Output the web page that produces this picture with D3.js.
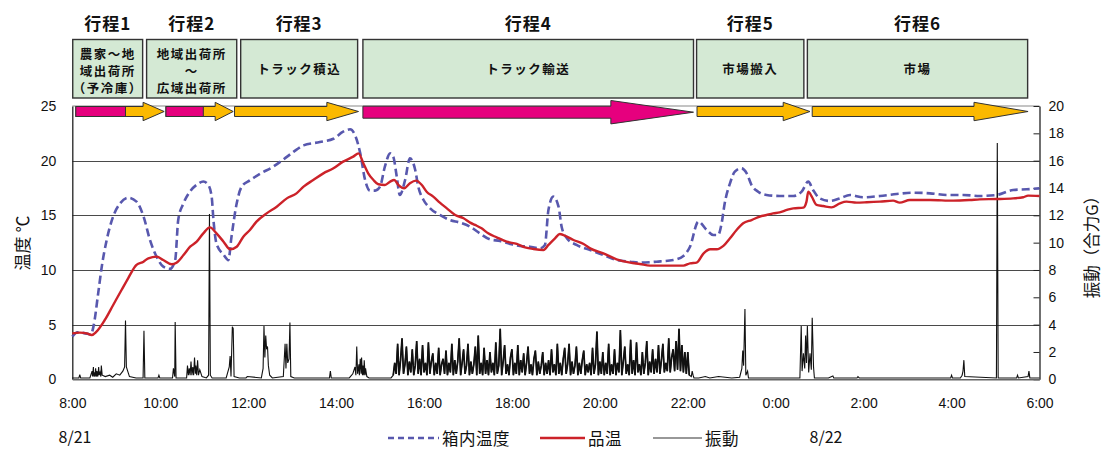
<!DOCTYPE html>
<html lang="ja">
<head>
<meta charset="utf-8">
<title>行程別 温度・振動</title>
<script src="https://cdn.jsdelivr.net/npm/d3@7"></script>
<style>
body { margin: 0; background: #fff; }
text { font-family: "Liberation Sans", Arial, sans-serif; fill: #111; }
.jp { font-family: "Noto Sans CJK JP", sans-serif; }
</style>
</head>
<body>
<script>
// 時刻は 8/21 0:00 からの時間 (30 = 8/22 6:00)
var phaseNames = ["行程1", "行程2", "行程3", "行程4", "行程5", "行程6"];
var phaseLabels = [["農家～地", "域出荷所", "（予冷庫）"], ["地域出荷所", "～", "広域出荷所"],
                   ["トラック積込"], ["トラック輸送"], ["市場搬入"], ["市場"]];
var phaseFrom = [8.01, 9.69, 11.83, 14.61, 22.20, 24.72];
var phaseTo   = [9.60, 11.74, 14.49, 22.13, 24.64, 29.73];

// 矢印: 開始, ピンク部分の終わり, 矢じり開始, 先端
var arrowFrom   = [8.08, 10.13, 11.69, 14.61, 22.21, 24.83];
var arrowPinkTo = [9.21, 10.98, null, 22.13, null, null];
var arrowHeadAt = [9.61, 11.25, 13.79, 20.25, 24.17, 28.51];
var arrowTip    = [10.09, 11.66, 14.51, 22.13, 24.78, 29.74];

var xTicks = [8, 10, 12, 14, 16, 18, 20, 22, 24, 26, 28, 30];
var tempTicks = [0, 5, 10, 15, 20, 25];
var vibTicks = [0, 2, 4, 6, 8, 10, 12, 14, 16, 18, 20];

var boxTemp = [[8.00,3.9],[8.12,4.3],[8.30,4.2],[8.42,4.1],[8.48,4.8],[8.59,7.9],[8.67,10.3],[8.78,12.7],
  [8.93,14.9],[9.09,16.1],[9.27,16.6],[9.46,16.25],[9.62,14.9],[9.77,12.7],[9.92,11.2],[10.07,10.3],
  [10.22,10.1],[10.34,10.9],[10.41,14.6],[10.53,16.1],[10.68,17.2],[10.83,17.8],[10.98,18.1],[11.09,17.8],
  [11.17,16.7],[11.21,14.6],[11.28,12.4],[11.44,11.4],[11.55,10.9],[11.62,13.0],[11.74,16.1],[11.85,17.6],
  [12.04,18.2],[12.27,18.8],[12.57,19.45],[12.80,20.1],[13.03,20.8],[13.26,21.4],[13.63,21.7],[13.94,22.0],
  [14.16,22.65],[14.32,22.87],[14.43,22.35],[14.55,20.67],[14.66,18.23],[14.77,17.26],[14.89,17.26],[15.0,17.62],
  [15.11,19.45],[15.23,20.67],[15.30,20.37],[15.38,18.54],[15.45,16.86],[15.57,18.23],[15.68,20.21],[15.80,19.15],
  [15.87,17.62],[15.99,16.40],[16.14,15.64],[16.36,15.03],[16.59,14.57],[16.82,14.33],[17.05,13.96],[17.27,13.35],
  [17.50,12.80],[17.73,12.65],[17.96,12.38],[18.18,12.20],[18.41,12.13],[18.64,11.98],[18.75,12.29],[18.83,15.49],
  [18.94,16.71],[19.06,15.79],[19.13,13.96],[19.25,12.90],[19.47,12.29],[19.78,11.83],[20.08,11.37],[20.38,10.91],
  [20.69,10.76],[20.91,10.67],[21.29,10.76],[21.67,10.91],[21.90,11.28],[22.05,12.13],[22.24,14.42],[22.43,13.66],
  [22.58,13.20],[22.69,13.20],[22.77,14.27],[22.84,16.10],[22.96,17.93],[23.07,18.99],[23.22,19.30],[23.34,18.84],
  [23.45,17.77],[23.60,17.16],[23.79,16.86],[24.09,16.77],[24.40,16.77],[24.59,17.16],[24.74,18.08],[24.85,17.32],
  [25.00,16.55],[25.23,16.31],[25.46,16.55],[25.69,16.86],[25.99,16.65],[26.37,16.77],[26.75,16.95],[27.13,17.07],
  [27.51,17.01],[27.89,16.86],[28.27,16.86],[28.64,16.77],[29.02,16.86],[29.40,17.32],[29.71,17.38],[30.0,17.47]];

var prodTemp = [[8.00,4.2],[8.17,4.27],[8.33,4.2],[8.44,4.05],[8.55,4.36],[8.74,5.43],[8.93,6.80],[9.12,8.17],
  [9.27,9.24],[9.46,10.46],[9.62,10.76],[9.73,11.07],[9.92,11.22],[10.07,10.91],[10.26,10.52],[10.37,10.67],
  [10.53,11.37],[10.68,12.13],[10.83,12.59],[10.98,13.35],[11.13,13.90],[11.28,13.35],[11.44,12.59],[11.59,11.89],
  [11.74,12.13],[11.89,13.05],[12.04,13.66],[12.19,14.42],[12.42,15.18],[12.65,15.79],[12.88,16.55],[13.10,17.01],
  [13.26,17.62],[13.48,18.23],[13.71,18.84],[13.94,19.30],[14.16,19.91],[14.39,20.37],[14.51,20.67],[14.62,19.76],
  [14.73,18.84],[14.85,18.23],[14.96,17.84],[15.11,17.77],[15.23,18.08],[15.32,18.23],[15.42,17.77],[15.55,17.47],
  [15.68,17.93],[15.82,18.17],[15.95,17.77],[16.06,17.16],[16.21,16.71],[16.36,16.16],[16.52,15.64],[16.71,15.03],
  [16.90,14.73],[17.05,14.33],[17.16,14.12],[17.31,13.81],[17.46,13.35],[17.65,12.99],[17.88,12.59],[18.11,12.38],
  [18.30,12.07],[18.49,11.92],[18.72,11.83],[18.83,12.29],[18.98,12.90],[19.09,13.29],[19.25,13.05],[19.40,12.74],
  [19.63,12.38],[19.78,11.98],[20.08,11.52],[20.38,10.98],[20.69,10.67],[20.91,10.55],[21.14,10.40],[21.45,10.40],
  [21.67,10.40],[21.90,10.40],[22.05,10.61],[22.20,10.67],[22.36,11.52],[22.51,11.89],[22.66,11.89],[22.81,12.20],
  [22.96,12.90],[23.11,13.66],[23.26,14.27],[23.45,14.57],[23.64,14.88],[23.79,15.03],[23.94,15.18],[24.09,15.27],
  [24.25,15.49],[24.40,15.64],[24.63,15.70],[24.70,16.25],[24.74,17.16],[24.82,16.71],[24.93,15.95],[25.08,15.85],
  [25.27,15.73],[25.46,16.10],[25.61,16.25],[25.84,16.16],[26.07,16.19],[26.37,16.25],[26.67,16.34],[26.82,16.16],
  [27.05,16.40],[27.51,16.40],[28.04,16.34],[28.42,16.40],[28.64,16.46],[29.02,16.49],[29.40,16.55],[29.63,16.65],
  [29.74,16.80],[30.0,16.77]];

// 振動: 輸送前の記録
var vibEarly = [[8.00,0.1],[8.15,0.1],[8.17,0.35],[8.19,0.1],[8.40,0.1],[8.45,0.6],[8.46,0.2],[8.48,0.9],[8.49,0.2],
  [8.50,0.5],[8.52,0.2],[8.53,0.8],[8.55,0.2],[8.56,0.6],[8.58,0.2],[8.60,0.9],[8.61,0.3],[8.63,0.5],[8.65,0.2],
  [8.66,1.0],[8.68,0.3],[8.75,0.2],[8.85,0.3],[8.92,0.15],[9.0,0.4],[9.08,0.3],[9.15,0.6],[9.19,0.9],[9.21,4.3],
  [9.23,0.9],[9.26,0.6],[9.30,0.2],[9.45,0.1],[9.61,0.1],[9.63,3.55],[9.65,0.1],[9.95,0.1],[9.97,0.3],[9.99,0.1],
  [10.28,0.1],[10.30,0.8],[10.33,0.2],[10.34,4.2],[10.36,0.1],[10.60,0.1],[10.62,1.0],[10.64,0.3],[10.66,0.8],
  [10.68,0.3],[10.70,1.3],[10.72,0.3],[10.74,0.9],[10.76,0.3],[10.78,1.6],[10.80,0.4],[10.81,1.0],[10.83,0.3],
  [10.85,1.4],[10.87,0.3],[10.90,0.7],[10.95,0.2],[11.05,0.1],[11.10,0.3],[11.12,12.1],[11.14,0.3],[11.18,0.1],
  [11.50,0.1],[11.57,0.9],[11.59,1.7],[11.61,0.2],[11.64,3.85],[11.66,3.7],[11.68,0.2],[11.80,0.1],[11.95,0.1],
  [11.98,0.2],[12.30,0.1],[12.34,0.8],[12.36,3.9],[12.38,1.6],[12.40,3.2],[12.42,2.2],[12.44,2.4],[12.46,1.0],
  [12.49,0.3],[12.55,0.1],[12.80,0.2],[12.84,2.6],[12.86,0.8],[12.88,2.6],[12.90,1.2],[12.93,1.5],[12.95,4.15],
  [12.97,0.2],[13.05,0.1],[13.85,0.1],[13.87,0.6],[13.89,0.1],[14.30,0.1],[14.38,0.4],[14.43,0.9],[14.45,0.3],
  [14.46,1.3],[14.47,2.4],[14.49,0.4],[14.52,1.1],[14.53,0.3],[14.55,1.5],[14.57,0.4],[14.58,1.6],[14.60,0.3],
  [14.61,1.0],[14.63,0.3],[14.64,1.4],[14.66,0.3],[14.67,0.8],[14.70,0.2],[14.75,0.1],[15.25,0.1]];

// 振動: トラック輸送中 (15:18 から 2 分ごと)
var bandStart = 15.3, bandStep = 2 / 60;
var bandVib = [0.3,1.2,0.4,2.6,0.3,1.4,3.0,0.4,1.1,2.4,0.3,1.3,0.5,2.2,0.3,
  1.0,2.8,0.4,1.5,0.3,2.5,0.5,1.2,0.3,2.7,0.4,1.3,1.9,0.3,1.2,
  0.4,2.3,0.3,1.1,1.5,0.4,2.1,0.3,1.2,0.5,2.6,0.3,1.4,0.4,1.3,
  3.0,0.3,1.2,2.2,0.4,1.0,2.6,0.3,1.3,0.4,1.1,2.4,0.3,3.2,0.4,
  1.2,0.3,2.3,0.4,1.4,0.3,2.0,0.5,1.2,0.3,2.7,0.4,1.0,3.7,0.3,
  1.3,2.5,0.4,1.1,0.3,1.6,2.2,0.3,1.2,0.4,2.5,0.3,1.4,0.5,1.9,
  0.3,1.2,2.4,0.4,1.1,0.3,1.5,2.1,0.3,1.3,0.4,1.0,2.0,0.3,1.2,
  0.4,1.4,0.3,2.2,0.5,1.1,0.3,2.6,0.4,1.2,0.3,1.5,2.3,0.4,1.1,
  2.6,0.3,1.3,0.4,1.0,2.4,0.3,1.2,0.4,1.4,2.1,0.3,1.1,0.5,1.2,
  0.3,2.3,0.4,1.1,3.5,0.3,1.3,0.4,2.0,0.3,1.2,0.4,2.6,0.3,1.1,
  0.4,2.2,0.3,1.2,0.5,3.6,0.3,1.3,2.4,0.4,1.1,0.3,2.9,0.4,1.4,
  0.3,2.7,0.5,1.1,0.3,2.0,0.4,1.2,2.8,0.3,1.3,0.5,2.2,0.4,1.5,
  0.5,2.5,0.4,1.4,2.6,0.5,1.2,0.6,3.0,0.5,1.6,2.2,0.6,2.8,0.7,
  3.7,0.6,2.5,0.5,2.0,0.4,2.0,0.3];

// 振動: 輸送後
var vibLate = [[22.08,0.2],[22.10,0.6],[22.12,0.3],[22.14,0.1],[22.25,0.1],[22.40,0.2],[22.50,0.1],[22.70,0.2],
  [23.0,0.1],[23.18,0.15],[23.23,0.8],[23.25,2.1],[23.27,1.0],[23.30,5.15],[23.32,0.3],[23.36,0.6],[23.38,0.1],
  [24.3,0.1],[24.55,0.1],[24.58,3.9],[24.60,0.6],[24.63,1.9],[24.66,0.8],[24.68,3.2],[24.70,1.2],[24.72,3.9],
  [24.75,0.5],[24.78,1.9],[24.81,0.7],[24.83,4.5],[24.86,0.9],[24.88,0.1],[25.2,0.1],[25.3,0.25],[25.32,0.1],
  [25.85,0.1],[25.87,0.2],[25.9,0.1],[27.98,0.1],[28.0,0.3],[28.02,0.1],[28.2,0.1],[28.24,0.3],[28.26,0.6],
  [28.28,1.4],[28.30,0.2],[29.02,0.1],[29.04,17.3],[29.06,0.1],[29.48,0.1],[29.5,0.3],[29.52,0.1],[29.74,0.2],
  [29.76,0.6],[29.78,0.1],[30.0,0.1]];

var W = 1103, H = 450;
var svg = d3.select("body").append("svg").attr("width", W).attr("height", H);

var x = d3.scaleLinear().domain([8, 30]).range([72.3, 1039.5]);
var yT = d3.scaleLinear().domain([0, 25]).range([379.3, 106]);
var yV = d3.scaleLinear().domain([0, 20]).range([379.3, 106]);

// 枠とグリッド
svg.append("g").selectAll("line").data([5, 10, 15, 20]).join("line")
   .attr("x1", x(8)).attr("x2", x(30))
   .attr("y1", function(d){ return Math.round(yT(d)) + 0.5; })
   .attr("y2", function(d){ return Math.round(yT(d)) + 0.5; })
   .attr("stroke", "#4a4a4a").attr("stroke-width", 1.2);
svg.append("line").attr("x1", x(8)).attr("x2", x(30))
   .attr("y1", yT(25)).attr("y2", yT(25)).attr("stroke", "#888").attr("stroke-width", 1);

var axL = svg.append("g").attr("transform", "translate(" + x(8) + ",0)")
   .call(d3.axisLeft(yT).tickValues(tempTicks).tickSize(0).tickSizeOuter(0).tickPadding(16));
axL.select(".domain").attr("stroke", "#222").attr("stroke-width", 1.3);
axL.selectAll("text").attr("font-size", 14).attr("font-family", "Liberation Sans, Arial, sans-serif").attr("fill", "#111");

var axR = svg.append("g").attr("transform", "translate(" + x(30) + ",0)")
   .call(d3.axisRight(yV).tickValues(vibTicks).tickSizeInner(-6).tickSizeOuter(0).tickPadding(9));
axR.select(".domain").attr("stroke", "#222").attr("stroke-width", 1.3);
axR.selectAll("line").attr("stroke", "#222");
axR.selectAll("text").attr("font-size", 14).attr("font-family", "Liberation Sans, Arial, sans-serif").attr("fill", "#111");

var axB = svg.append("g").attr("transform", "translate(0," + yT(0) + ")")
   .call(d3.axisBottom(x).tickValues(xTicks).tickSize(0).tickSizeOuter(0).tickPadding(19)
           .tickFormat(function(h){ return (h % 24) + ":00"; }));
axB.select(".domain").attr("stroke", "#666").attr("stroke-width", 1.5);
axB.selectAll("text").attr("font-size", 14).attr("font-family", "Liberation Sans, Arial, sans-serif").attr("fill", "#111");

// 系列
var bandData = bandVib.map(function(v, i){ return [bandStart + i * bandStep, v]; });
var vibData = vibEarly.concat(bandData, vibLate);
var lineT = d3.line().x(function(d){ return x(d[0]); }).y(function(d){ return yT(d[1]); }).curve(d3.curveMonotoneX);
var lineV = d3.line().x(function(d){ return x(d[0]); }).y(function(d){ return yV(d[1]); });

svg.append("path").datum(vibData).attr("d", lineV)
   .attr("fill", "none").attr("stroke", "#111").attr("stroke-width", 1.1);
// 輸送中は記録が密なので太めに重ねる
svg.append("path").datum(bandData).attr("d", lineV)
   .attr("fill", "none").attr("stroke", "#111").attr("stroke-width", 1.7).attr("stroke-linejoin", "bevel");
svg.append("path").datum(boxTemp).attr("d", lineT)
   .attr("fill", "none").attr("stroke", "#5858ae").attr("stroke-width", 2.6).attr("stroke-dasharray", "8,4");
svg.append("path").datum(prodTemp).attr("d", lineT)
   .attr("fill", "none").attr("stroke", "#cc2229").attr("stroke-width", 2.4);

// 行程の見出しと箱
var boxTop = 39.5, boxBottom = 98;
phaseNames.forEach(function(name, i){
  var cx = (x(phaseFrom[i]) + x(phaseTo[i])) / 2;
  svg.append("text").attr("class", "jp").attr("x", cx).attr("y", 22)
     .attr("text-anchor", "middle").attr("dominant-baseline", "central")
     .attr("font-size", 17).attr("font-weight", "bold").attr("letter-spacing", 1).text(name);
  svg.append("rect").attr("x", x(phaseFrom[i])).attr("y", boxTop)
     .attr("width", x(phaseTo[i]) - x(phaseFrom[i])).attr("height", boxBottom - boxTop)
     .attr("fill", "#d4e9d4").attr("stroke", "#333").attr("stroke-width", 1.4);
  var lines = phaseLabels[i];
  var cy = (boxTop + boxBottom) / 2;
  lines.forEach(function(t, j){
    svg.append("text").attr("class", "jp").attr("x", cx)
       .attr("y", lines.length === 1 ? cy : 53 + j * 17)
       .attr("text-anchor", "middle").attr("dominant-baseline", "central")
       .attr("font-size", 12.5).attr("font-weight", "bold").attr("letter-spacing", 1.5).text(t);
  });
});

// 矢印
var pink = "#e6007e", yellow = "#fbb900";
arrowFrom.forEach(function(f, i){
  var allPink = arrowPinkTo[i] !== null && arrowPinkTo[i] >= arrowTip[i];
  var cy = allPink ? 112.2 : 111.5, bh = allPink ? 6 : 5, hh = allPink ? 11.7 : 9.2;
  var x0 = x(f), xh = x(arrowHeadAt[i]), xt = x(arrowTip[i]);
  var pts = [[x0, cy - bh], [xh, cy - bh], [xh, cy - hh], [xt, cy], [xh, cy + hh], [xh, cy + bh], [x0, cy + bh]];
  svg.append("polygon").attr("points", pts.map(function(p){ return p.join(","); }).join(" "))
     .attr("fill", allPink ? pink : yellow).attr("stroke", "#333").attr("stroke-width", 1);
  if (arrowPinkTo[i] !== null && !allPink) {
    svg.append("rect").attr("x", x0).attr("y", cy - bh)
       .attr("width", x(arrowPinkTo[i]) - x0).attr("height", 2 * bh)
       .attr("fill", pink).attr("stroke", "#333").attr("stroke-width", 1);
  }
});

// 軸タイトルと日付
svg.append("text").attr("class", "jp").attr("transform", "translate(21,243) rotate(-90)")
   .attr("text-anchor", "middle").attr("dominant-baseline", "central").attr("font-size", 17).text("温度 ℃");
svg.append("text").attr("class", "jp").attr("transform", "translate(1091,243) rotate(-90)")
   .attr("text-anchor", "middle").attr("dominant-baseline", "central").attr("font-size", 16.5).text("振動（合力G）");
svg.append("text").attr("class", "jp").attr("x", 75).attr("y", 436).attr("text-anchor", "middle")
   .attr("dominant-baseline", "central").attr("font-size", 16).text("8/21");
svg.append("text").attr("class", "jp").attr("x", 826).attr("y", 436).attr("text-anchor", "middle")
   .attr("dominant-baseline", "central").attr("font-size", 16).text("8/22");

// 凡例
var legY = 438;
var legend = [
  {name: "箱内温度", x1: 388, x2: 439, color: "#5858ae", w: 2.4, dash: "6,4"},
  {name: "品温", x1: 540, x2: 585, color: "#cc2229", w: 2.4, dash: null},
  {name: "振動", x1: 653, x2: 702, color: "#333", w: 1.2, dash: null}
];
legend.forEach(function(l){
  svg.append("line").attr("x1", l.x1).attr("x2", l.x2).attr("y1", legY).attr("y2", legY)
     .attr("stroke", l.color).attr("stroke-width", l.w).attr("stroke-dasharray", l.dash);
  svg.append("text").attr("class", "jp").attr("x", l.x2 + 3).attr("y", legY)
     .attr("dominant-baseline", "central").attr("font-size", 16.5).attr("letter-spacing", 0.5).text(l.name);
});
</script>
</body>
</html>
